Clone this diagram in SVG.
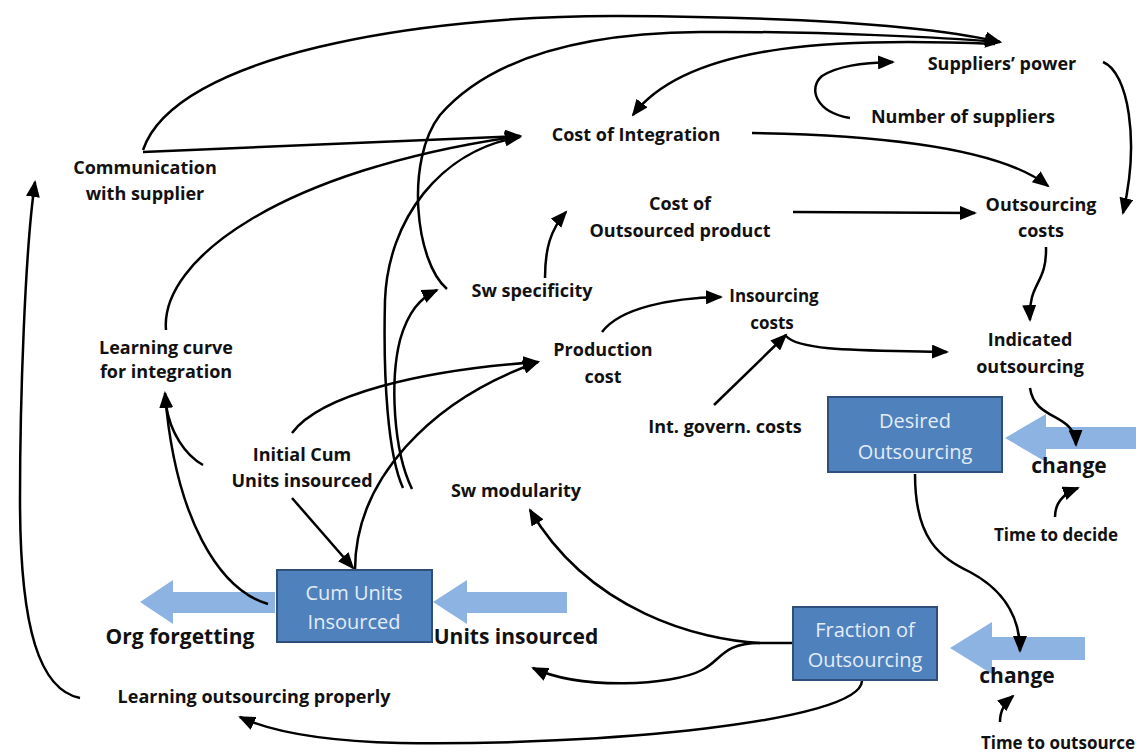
<svg xmlns="http://www.w3.org/2000/svg" width="1136" height="754" viewBox="0 0 1136 754">
<defs>
<marker id="ah" markerUnits="userSpaceOnUse" markerWidth="18" markerHeight="14" refX="15" refY="7" orient="auto">
<path d="M0,0 L17,7 L0,14 z" fill="#000"/>
</marker>
<style>
.t{font-family:"Open Sans",Lato,sans-serif;font-weight:700;font-size:18px;fill:#111;text-anchor:middle}
.ts{font-family:"Open Sans",Lato,sans-serif;font-weight:700;font-size:17px;fill:#111;text-anchor:middle}
.tb{font-family:"Open Sans",Lato,sans-serif;font-weight:700;font-size:21px;fill:#111;text-anchor:middle}
.bx{fill:#4f81bd;stroke:#2f4f7a;stroke-width:2}
.bt{font-family:"Open Sans",Lato,sans-serif;font-size:20px;fill:#e3ecf7;text-anchor:middle}
.fl{fill:#8db3e2}
.c{fill:none;stroke:#000;stroke-width:2.5}
.a{marker-end:url(#ah)}
</style>
</defs>
<rect width="1136" height="754" fill="#fff"/>

<g id="flows">
<path class="fl" d="M1136,427 L1046,427 L1046,414 L1005,438 L1046,462 L1046,449 L1136,449 z"/>
<path class="fl" d="M1085,637 L992,637 L992,622 L950,648 L992,674 L992,660 L1085,660 z"/>
<path class="fl" d="M567,592 L467,592 L467,580 L433,602 L467,624 L467,613 L567,613 z"/>
<path class="fl" d="M275,592 L173,592 L173,580 L140,602 L173,624 L173,613 L275,613 z"/>
</g>

<g id="connectors">
<path class="c a" d="M143,150 C175,55 420,15 620,16 S940,28 1000,42"/>
<path class="c a" d="M447,289 C415,262 405,160 440,115 C490,58 580,33 700,32 S950,38 1000,42"/>
<path class="c a" d="M995,44 C850,38 690,40 633,115"/>
<path class="c a" d="M850,118 C815,112 808,88 822,76 C838,66 860,63 893,62"/>
<path class="c a" d="M1103,62 C1128,72 1140,140 1123,213"/>
<path class="c a" d="M752,133 C880,135 1000,148 1048,186"/>
<path class="c a" d="M793,212 L975,213"/>
<path class="c a" d="M545,278 C545,250 550,230 566,212"/>
<path class="c a" d="M1046,247 C1047,285 1028,282 1030,320"/>
<path class="c a" d="M602,332 C620,308 670,298 721,297"/>
<path class="c a" d="M714,405 L786,335"/>
<path class="c a" d="M786,336 C800,352 870,350 947,352"/>
<path class="c a" d="M1030,388 C1035,422 1075,412 1076,445"/>
<path class="c a" d="M1055,517 C1055,502 1065,493 1078,488"/>
<path class="c a" d="M915,474 C915,540 940,557 970,572 C1000,588 1020,612 1020,651"/>
<path class="c a" d="M1000,722 C1000,710 1005,703 1013,696"/>
<path class="c a" d="M793,643 L760,643 C700,640 590,612 530,510"/>
<path class="c a" d="M760,643 C722,643 722,660 702,670 C672,686 580,690 533,668"/>
<path class="c a" d="M862,681 C860,722 600,746 400,743 C320,741 270,731 240,717"/>
<path class="c a" d="M80,698 C40,690 20,630 20,500 C20,400 25,250 35,182"/>
<path class="c a" d="M268,604 C220,590 175,520 165,393"/>
<path class="c" d="M203,465 C185,455 170,432 166,405"/>
<path class="c a" d="M166,330 C160,260 280,170 520,136"/>
<path class="c a" d="M143,152 L520,136"/>
<path class="c a" d="M403,488 C388,455 383,380 385,300 C388,220 440,150 520,137"/>
<path class="c a" d="M412,489 C393,450 390,380 400,340 C408,312 420,298 437,290"/>
<path class="c a" d="M292,433 C320,395 420,370 538,362"/>
<path class="c a" d="M355,570 C355,480 430,400 538,362"/>
<path class="c a" d="M292,498 L353,568"/>
</g>

<g id="suppliers-power"><text class="t" x="1002" y="70">Suppliers’ power</text></g>
<g id="number-of-suppliers"><text class="t" x="963" y="123">Number of suppliers</text></g>
<g id="cost-of-integration"><text class="t" x="636" y="141">Cost of Integration</text></g>
<g id="communication-with-supplier"><text class="t" x="145" y="174">Communication</text><text class="t" x="145" y="200">with supplier</text></g>
<g id="cost-of-outsourced-product"><text class="t" x="680" y="210">Cost of</text><text class="t" x="680" y="237">Outsourced product</text></g>
<g id="outsourcing-costs"><text class="t" x="1041" y="211">Outsourcing</text><text class="t" x="1041" y="237">costs</text></g>
<g id="sw-specificity"><text class="t" x="532" y="297">Sw specificity</text></g>
<g id="insourcing-costs"><text class="ts" x="774" y="302">Insourcing</text><text class="ts" x="772" y="329">costs</text></g>
<g id="indicated-outsourcing"><text class="t" x="1030" y="346">Indicated</text><text class="t" x="1030" y="373">outsourcing</text></g>
<g id="learning-curve"><text class="t" x="166" y="354">Learning curve</text><text class="t" x="166" y="378">for integration</text></g>
<g id="production-cost"><text class="t" x="603" y="356">Production</text><text class="t" x="603" y="383">cost</text></g>
<g id="int-govern-costs"><text class="t" x="725" y="433">Int. govern. costs</text></g>
<g id="desired-outsourcing"><rect class="bx" x="828" y="397" width="174" height="75"/><text class="bt" x="915" y="428">Desired</text><text class="bt" x="915" y="459">Outsourcing</text></g>
<g id="change-1"><text class="tb" x="1069" y="473">change</text></g>
<g id="initial-cum"><text class="t" x="302" y="461">Initial Cum</text><text class="t" x="302" y="487">Units insourced</text></g>
<g id="sw-modularity"><text class="t" x="516" y="497">Sw modularity</text></g>
<g id="time-to-decide"><text class="ts" x="1056" y="541">Time to decide</text></g>
<g id="cum-units-insourced"><rect class="bx" x="277" y="570" width="155" height="72"/><text class="bt" x="354" y="600">Cum Units</text><text class="bt" x="354" y="629">Insourced</text></g>
<g id="org-forgetting"><text class="tb" x="180" y="644">Org forgetting</text></g>
<g id="units-insourced"><text class="tb" x="516" y="644">Units insourced</text></g>
<g id="fraction-of-outsourcing"><rect class="bx" x="793" y="607" width="144" height="73"/><text class="bt" x="865" y="637">Fraction of</text><text class="bt" x="865" y="667">Outsourcing</text></g>
<g id="change-2"><text class="tb" x="1017" y="683">change</text></g>
<g id="learning-outsourcing-properly"><text class="t" x="254" y="703">Learning outsourcing properly</text></g>
<g id="time-to-outsource"><text class="ts" x="1058" y="749">Time to outsource</text></g>
</svg>
